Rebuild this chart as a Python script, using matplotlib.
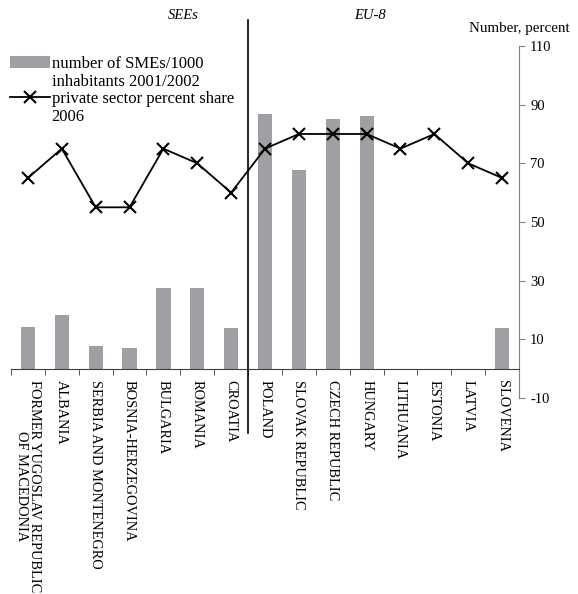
import numpy as np
import matplotlib
matplotlib.use("Agg")
from matplotlib import pyplot as plt

plt.rcParams['font.family'] = ['Liberation Serif', 'DejaVu Serif']
plt.rcParams['axes.unicode_minus'] = False

countries = ["FORMER YUGOSLAV REPUBLIC\nOF MACEDONIA", "ALBANIA", "SERBIA AND MONTENEGRO",
             "BOSNIA-HERZEGOVINA", "BULGARIA", "ROMANIA", "CROATIA", "POLAND",
             "SLOVAK REPUBLIC", "CZECH REPUBLIC", "HUNGARY", "LITHUANIA", "ESTONIA",
             "LATVIA", "SLOVENIA"]
smes = [14.3, 18.3, 7.8, 7.1, 27.5, 27.5, 13.9, 86.8, 67.7, 85.2, 86.2, 0, 0, 0, 13.9]
private_share = [65, 75, 55, 55, 75, 70, 60, 75, 80, 80, 80, 75, 80, 70, 65]
yticks = [-10, 10, 30, 50, 70, 90, 110]

fig = plt.figure(figsize=(5.78, 5.94), dpi=100)
ax = fig.add_axes([0.019, 0.330, 0.879, 0.5926])

x = np.arange(len(countries))
bars = ax.bar(x, smes, width=0.42, color='#a0a0a4')
line, = ax.plot(x, private_share, color='black', lw=1.3, marker='x', ms=8, mew=1.5)

ax.set_xlim(-0.5, len(countries) - 0.5)
ax.set_ylim(-10, 110)

# axes styling
for s in ['left', 'top']:
    ax.spines[s].set_visible(False)
ax.spines['right'].set_color('#808080')
ax.spines['bottom'].set_position(('data', 0))
ax.spines['bottom'].set_color('#404040')
ax.yaxis.tick_right()
ax.set_yticks(yticks)
ax.tick_params(axis='y', colors='#808080', labelcolor='black', length=4, labelsize=10.5, pad=4)

ax.set_xticks(x)
ax.set_xticklabels(countries, rotation=270, fontsize=10.4, va='top', ha='center',
                   linespacing=1.0)
ax.set_xticks(np.arange(-0.5, len(countries), 1), minor=True)
ax.tick_params(axis='x', which='major', length=0, pad=8)
ax.tick_params(axis='x', which='minor', length=4, color='#404040')

# divider between groups
ax.plot([6.5, 6.5], [-22, 119], color='black', lw=1.2, clip_on=False)
ax.text(4.6, 120.4, 'SEEs', style='italic', fontsize=10.5, ha='center', va='center')
ax.text(10.1, 120.4, 'EU-8', style='italic', fontsize=10.5, ha='center', va='center')
fig.text(0.986, 0.952, 'Number, percent', ha='right', va='center', fontsize=10.8)

# legend: handles sit on the first line of each label
blank = plt.Line2D([], [], color='none')
ax.legend([bars, blank, line, blank],
          ['number of SMEs/1000', 'inhabitants 2001/2002', 'private sector percent share', '2006'],
          loc='upper left', bbox_to_anchor=(0.018, 0.906), bbox_transform=fig.transFigure,
          frameon=False, fontsize=12, handlelength=2.35, handletextpad=0.12,
          borderaxespad=0, borderpad=0, labelspacing=0.1)

fig.savefig('out.png', dpi=100)
